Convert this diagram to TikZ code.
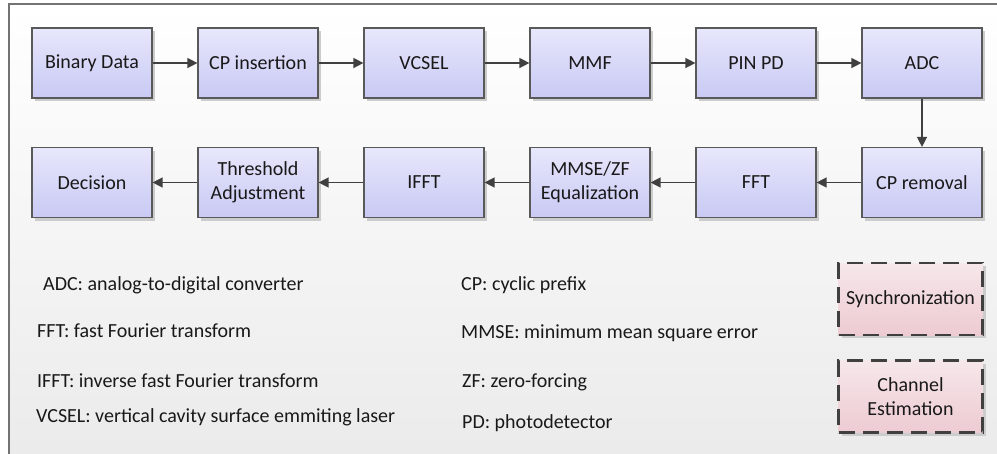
\documentclass[tikz,border=0pt]{standalone}
\usepackage{fontspec}
\setmainfont{Carlito}
\usetikzlibrary{arrows.meta,shadows}

\definecolor{blocktop}{HTML}{E7E7FC}
\definecolor{blockbot}{HTML}{C9C9F4}
\definecolor{auxtop}{HTML}{F6E7EA}
\definecolor{auxbot}{HTML}{EDCBD2}

\begin{document}
\begin{tikzpicture}
  [x=1pt,y=-1pt,font=\fontsize{20}{24}\selectfont,
   every node/.style={text=black!90},
   block/.style={rectangle,draw=black!65,line width=1.2pt,
     top color=blocktop,bottom color=blockbot,align=center,
     minimum width=120pt,minimum height=70pt,inner sep=2pt,
     drop shadow={shadow xshift=3pt,shadow yshift=-3pt,fill=black!20,opacity=1}},
   auxblock/.style={block,draw=black!75,line width=2.6pt,
     dash pattern=on 16pt off 8pt,top color=auxtop,bottom color=auxbot,
     minimum width=144pt,minimum height=72pt},
   abbr/.style={anchor=base west,inner sep=0pt},
   flow/.style={draw=black!75,line width=1.4pt,-{Triangle[length=10pt,width=10pt]}}]

  \useasboundingbox (0,0) rectangle (997,453);
  % frame
  \fill[top color=white,bottom color=black!8] (9,4) rectangle (1000,460);
  \draw[black!55,line width=1.2pt] (9,460) -- (9,4) -- (1000,4);

  % transmitter / link row
  \node[block] (bin)   at (92,63)  {Binary Data};
  \node[block] (cpi)   at (258,63) {CP insertion};
  \node[block] (vcsel) at (424,63) {VCSEL};
  \node[block] (mmf)   at (590,63) {MMF};
  \node[block] (pin)   at (756,63) {PIN PD};
  \node[block] (adc)   at (922,63) {ADC};

  % receiver row
  \node[block] (cpr)  at (922,182.5) {CP removal};
  \node[block] (fft)  at (756,182.5) {FFT};
  \node[block] (eq)   at (590,182.5) {MMSE/ZF\\Equalization};
  \node[block] (ifft) at (424,182.5) {IFFT};
  \node[block] (thr)  at (258,182.5) {Threshold\\Adjustment};
  \node[block] (dec)  at (92,182.5)  {Decision};

  \foreach \from/\to in {bin/cpi,cpi/vcsel,vcsel/mmf,mmf/pin,pin/adc,adc/cpr,
                         cpr/fft,fft/eq,eq/ifft,ifft/thr,thr/dec}
    \draw[flow] (\from) -- (\to);

  % abbreviations
  \node[abbr] (kadc)   at (43,290)  {ADC: analog-to-digital converter};
  \node[abbr] (kfft)   at (37,337)  {FFT: fast Fourier transform};
  \node[abbr] (kifft)  at (37,387)  {IFFT: inverse fast Fourier transform};
  \node[abbr] (kvcsel) at (36,422)  {VCSEL: vertical cavity surface emmiting laser};
  \node[abbr] (kcp)    at (461,290) {CP: cyclic prefix};
  \node[abbr] (kmmse)  at (461,338) {MMSE: minimum mean square error};
  \node[abbr] (kzf)    at (462,387) {ZF: zero-forcing};
  \node[abbr] (kpd)    at (462,428) {PD: photodetector};

  % auxiliary functions
  \node[auxblock] (sync) at (910.5,299)   {Synchronization};
  \node[auxblock] (chan) at (910.5,396.5) {Channel\\Estimation};

\end{tikzpicture}
\end{document}
